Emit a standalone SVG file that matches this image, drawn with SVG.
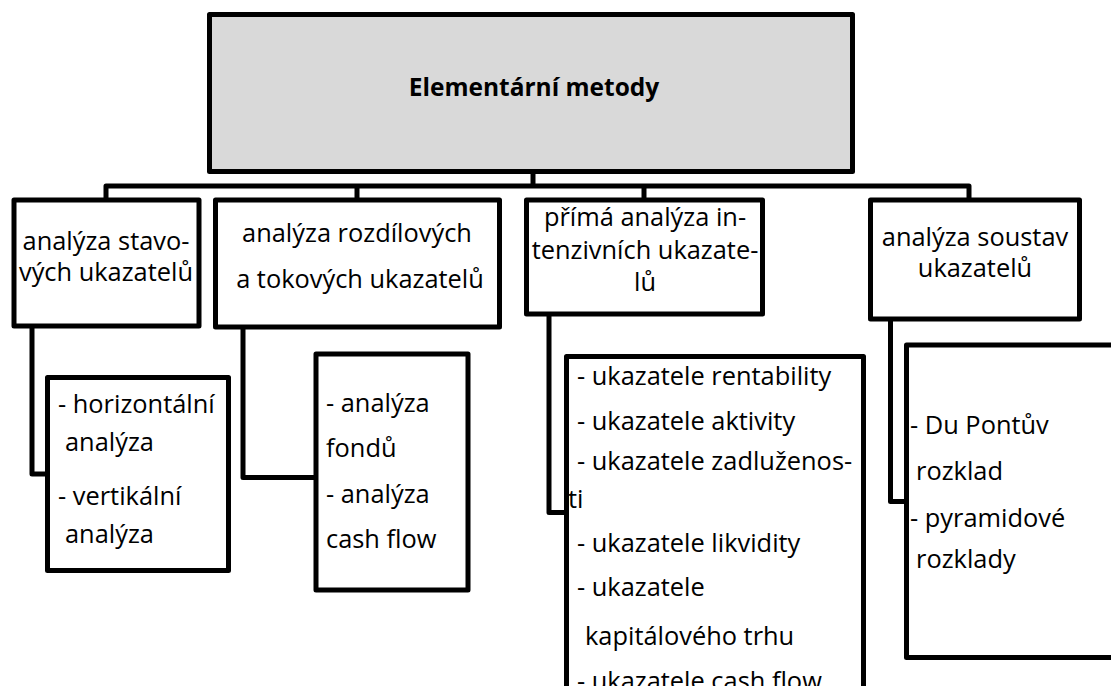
<svg xmlns="http://www.w3.org/2000/svg" width="1111" height="686" viewBox="0 0 1111 686">
<style>
.box{fill:#ffffff;stroke:#000000;stroke-width:5;stroke-linejoin:round}
.top{fill:#d9d9d9;stroke:#000000;stroke-width:5;stroke-linejoin:round}
.t{font-family:"Open Sans","Noto Sans",sans-serif;font-size:25.4px;fill:#000000}
.c{text-anchor:middle}
.b{font-weight:bold;font-size:24.5px}
.conn{fill:none;stroke:#000000;stroke-width:5;stroke-linejoin:round}
</style>
<rect width="1111" height="686" fill="#ffffff"/>
<g id="connectors">
<path class="conn" d="M533,173 V186"/>
<path class="conn" d="M106,198 V186 H969 V198"/>
<path class="conn" d="M357,186 V198"/>
<path class="conn" d="M644,186 V198"/>
<path class="conn" d="M32,328 V474 H48"/>
<path class="conn" d="M243,329 V477.5 H316"/>
<path class="conn" d="M549,316 V512.5 H566"/>
<path class="conn" d="M890.5,321 V501.5 H906"/>
</g>
<g id="n0">
<rect class="top" x="209.5" y="14.5" width="643" height="157"/>
<text class="t c b" x="534" y="96">Elementární metody</text>
</g>
<g id="n1">
<rect class="box" x="14" y="200" width="185" height="126"/>
<text class="t c" x="106" y="250">analýza stavo-</text>
<text class="t c" x="106" y="281">vých ukazatelů</text>
</g>
<g id="n2">
<rect class="box" x="215.5" y="200" width="284" height="127"/>
<text class="t c" x="357" y="242">analýza rozdílových</text>
<text class="t c" x="360" y="288">a tokových ukazatelů</text>
</g>
<g id="n3">
<rect class="box" x="526.5" y="200" width="236" height="114"/>
<text class="t c" x="645" y="226">přímá analýza in-</text>
<text class="t c" x="645" y="259">tenzivních ukazate-</text>
<text class="t c" x="645" y="291">lů</text>
</g>
<g id="n4">
<rect class="box" x="870.5" y="200" width="209" height="119"/>
<text class="t c" x="975" y="246">analýza soustav</text>
<text class="t c" x="975" y="277">ukazatelů</text>
</g>
<g id="n5">
<rect class="box" x="47.5" y="377.5" width="181" height="193"/>
<text class="t" x="58" y="413">- horizontální</text>
<text class="t" x="65" y="451">analýza</text>
<text class="t" x="58" y="505">- vertikální</text>
<text class="t" x="65" y="543">analýza</text>
</g>
<g id="n6">
<rect class="box" x="316" y="354" width="152" height="236"/>
<text class="t" x="326" y="412">- analýza</text>
<text class="t" x="326" y="457">fondů</text>
<text class="t" x="326" y="503">- analýza</text>
<text class="t" x="326" y="548">cash flow</text>
</g>
<g id="n7">
<rect class="box" x="566.5" y="356.5" width="297" height="400"/>
<text class="t" x="577" y="385">- ukazatele rentability</text>
<text class="t" x="577" y="430">- ukazatele aktivity</text>
<text class="t" x="577" y="470">- ukazatele zadluženos-</text>
<text class="t" x="568" y="508">ti</text>
<text class="t" x="577" y="552">- ukazatele likvidity</text>
<text class="t" x="577" y="596">- ukazatele</text>
<text class="t" x="585" y="645">kapitálového trhu</text>
<text class="t" x="577" y="690">- ukazatele cash flow</text>
</g>
<g id="n8">
<rect class="box" x="906.5" y="345" width="250" height="312.5"/>
<text class="t" x="910" y="434">- Du Pontův</text>
<text class="t" x="916" y="480">rozklad</text>
<text class="t" x="910" y="527">- pyramidové</text>
<text class="t" x="916" y="568">rozklady</text>
</g>
</svg>
